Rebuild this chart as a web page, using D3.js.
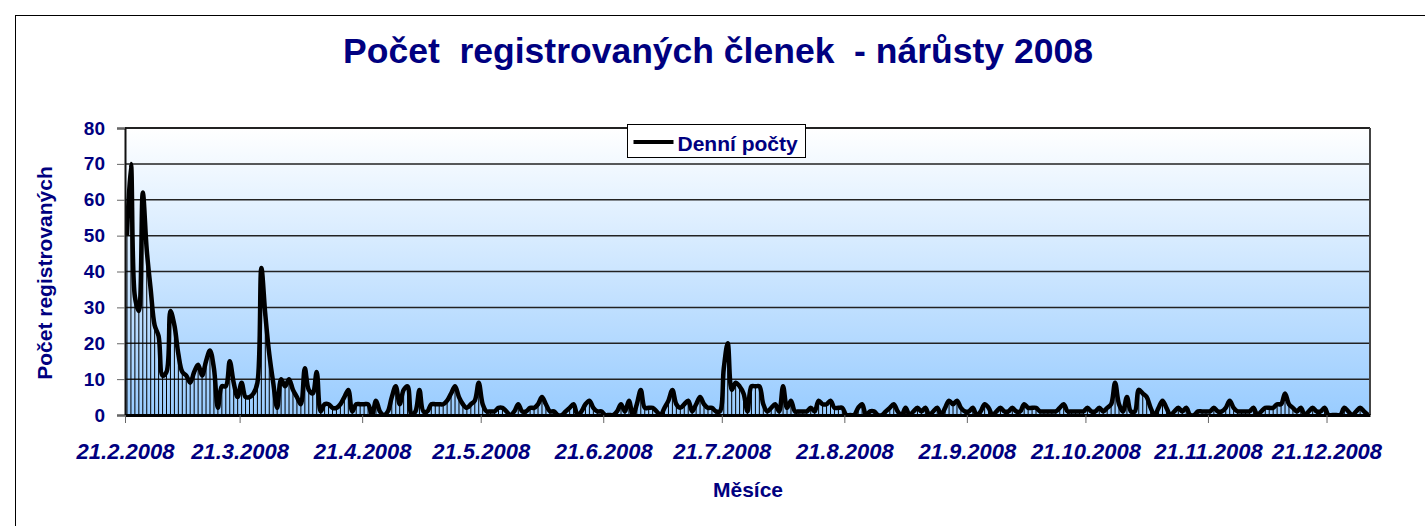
<!DOCTYPE html>
<html>
<head>
<meta charset="utf-8">
<script src="https://cdn.jsdelivr.net/npm/d3@7"></script>
<style>
	body { margin: 0; background: #fff; }
	text { font-family: "Liberation Sans", Arial, sans-serif; }
</style>
</head>
<body>
<div id="chart"></div>
<script>
var startDay = "21.2.2008";
var endDay = "1.1.2009";

// denni pocty, one value per day from 21.2.2008 to 31.12.2008
var counts = [
	50, 70, 33, 29, 62, 46, 35, 25, 22, 11, 12, 29, 25, 17, 12, 11, 9, 12, 14, 11,
	15, 18, 13, 2, 8, 8, 15, 9, 5, 9, 5, 5, 6, 9, 41, 28, 17, 9, 2, 10,
	8, 10, 7, 5, 3, 13, 7, 6, 12, 1, 3, 3, 2, 2, 3, 5, 7, 1, 3, 3,
	3, 3, 0, 4, 1, 0, 1, 5, 8, 3, 7, 8, 0, 1, 7, 1, 1, 3, 3, 3,
	3, 4, 6, 8, 5, 3, 2, 3, 4, 9, 3, 1, 1, 1, 2, 2, 1, 0, 1, 3,
	1, 1, 2, 2, 3, 5, 3, 1, 1, 0, 0, 1, 2, 3, 0, 1, 3, 4, 2, 1,
	1, 0, 0, 0, 1, 3, 1, 4, 0, 3, 7, 2, 2, 2, 1, 0, 2, 4, 7, 3,
	2, 3, 4, 1, 3, 5, 3, 2, 2, 1, 1, 13, 20, 7, 9, 8, 6, 1, 8, 8,
	8, 3, 1, 2, 3, 1, 8, 2, 4, 1, 1, 1, 1, 2, 1, 4, 3, 3, 4, 2,
	2, 2, 0, 0, 0, 2, 3, 0, 1, 1, 0, 0, 1, 2, 3, 1, 0, 2, 0, 1,
	2, 1, 2, 0, 1, 2, 0, 2, 4, 3, 4, 2, 1, 1, 2, 0, 1, 3, 2, 0,
	1, 2, 1, 1, 2, 1, 1, 3, 2, 2, 2, 1, 1, 1, 1, 1, 2, 3, 1, 1,
	1, 1, 1, 2, 1, 1, 2, 1, 2, 3, 9, 3, 1, 5, 1, 1, 7, 6, 5, 2,
	0, 2, 4, 2, 0, 1, 2, 1, 2, 0, 0, 1, 1, 1, 1, 2, 1, 1, 2, 4,
	2, 1, 1, 1, 1, 2, 0, 1, 2, 2, 2, 3, 3, 6, 3, 2, 1, 2, 0, 1,
	2, 1, 1, 2, 0, 0, 0, 0, 2, 1, 0, 1, 2, 1, 0
];

var tickLabels = [ "21.2.2008", "21.3.2008", "21.4.2008", "21.5.2008", "21.6.2008", "21.7.2008",
	"21.8.2008", "21.9.2008", "21.10.2008", "21.11.2008", "21.12.2008" ];
var yTicks = [ 0, 10, 20, 30, 40, 50, 60, 70, 80 ];

var title = "Počet  registrovaných členek  - nárůsty 2008";
var yTitle = "Počet registrovaných";
var xTitle = "Měsíce";
var seriesName = "Denní počty";

var navy = "#000080";
var parse = d3.timeParse("%d.%m.%Y");

var days = counts.map((v, i) => ({
	date: d3.timeHour.offset(d3.timeDay.offset(parse(startDay), i), 12),
	value: v
}));

var svg = d3.select("#chart")
	.append("svg")
	.attr("width", 1425)
	.attr("height", 526)
;

var margin = {top: 128, right: 55, bottom: 111, left: 125};
var width = 1425 - margin.left - margin.right;
var height = 526 - margin.top - margin.bottom;

var x = d3.scaleTime().domain([parse(startDay), parse(endDay)]).range([0, width]);
var y = d3.scaleLinear().domain([0, 80]).range([height, 0]);

// outer chart frame
svg.append("rect")
	.attr("x", 15.5).attr("y", 15.5)
	.attr("width", 1420).attr("height", 520)
	.attr("fill", "#fff")
	.attr("stroke", "#000")
;

var defs = svg.append("defs");
var grad = defs.append("linearGradient")
	.attr("id", "bg")
	.attr("x1", 0).attr("y1", 0).attr("x2", 0).attr("y2", 1);
grad.append("stop").attr("offset", "0%").attr("stop-color", "#ffffff");
grad.append("stop").attr("offset", "100%").attr("stop-color", "#99ccff");

defs.append("clipPath").attr("id", "clip")
	.append("rect").attr("x", 0).attr("y", -2).attr("width", width).attr("height", height + 4);

var g = svg.append("g")
	.attr("transform", "translate(" + margin.left + "," + margin.top + ")");

g.append("rect")
	.attr("width", width)
	.attr("height", height)
	.attr("fill", "url(#bg)")
;

// grid
g.append("g")
	.selectAll("line")
	.data(yTicks)
	.enter().append("line")
	.attr("x1", 0).attr("x2", width)
	.attr("y1", (d) => y(d)).attr("y2", (d) => y(d))
	.attr("stroke", "#222")
	.attr("stroke-width", 1.5)
;

var plot = g.append("g").attr("clip-path", "url(#clip)");

// drop lines
plot.append("g")
	.selectAll("line")
	.data(days)
	.enter().append("line")
	.attr("x1", (d) => x(d.date)).attr("x2", (d) => x(d.date))
	.attr("y1", (d) => y(d.value)).attr("y2", height)
	.attr("stroke", "#000")
	.attr("stroke-width", 1)
;

var line = d3.line()
	.x((d) => x(d.date))
	.y((d) => y(d.value))
	.curve(d3.curveCatmullRom.alpha(0.5));

plot.append("path")
	.datum(days)
	.attr("d", line)
	.attr("fill", "none")
	.attr("stroke", "#000")
	.attr("stroke-width", 4.5)
	.attr("stroke-linejoin", "round")
;

// plot frame
g.append("line").attr("x1", 0).attr("x2", width).attr("y1", 0).attr("y2", 0)
	.attr("stroke", "#222").attr("stroke-width", 2);
g.append("line").attr("x1", width).attr("x2", width).attr("y1", 0).attr("y2", height)
	.attr("stroke", "#444").attr("stroke-width", 2);

var yAxis = g.append("g")
	.call(d3.axisLeft(y).tickValues(yTicks).tickSize(8).tickPadding(12));
yAxis.select(".domain").attr("stroke", "#111").attr("stroke-width", 2);
yAxis.selectAll(".tick line").attr("stroke", "#666");
yAxis.selectAll("text")
	.attr("fill", navy)
	.attr("font-size", "19px")
	.attr("font-weight", "bold")
	.attr("font-family", "Liberation Sans, Arial, sans-serif")
;

var xAxis = g.append("g")
	.attr("transform", "translate(0," + height + ")")
	.call(d3.axisBottom(x)
		.tickValues(tickLabels.map(parse))
		.tickFormat(d3.timeFormat("%-d.%-m.%Y"))
		.tickSize(8)
		.tickSizeOuter(0)
		.tickPadding(10));
xAxis.select(".domain").attr("stroke", "#000").attr("stroke-width", 3);
xAxis.selectAll(".tick line").attr("stroke", "#666");
xAxis.selectAll("text")
	.attr("fill", navy)
	.attr("font-size", "22px")
	.attr("font-weight", "bold")
	.attr("font-style", "italic")
	.attr("font-family", "Liberation Sans, Arial, sans-serif")
	.attr("dy", "1.2em")
;

// titles
svg.append("text")
	.attr("x", 718).attr("y", 63)
	.attr("text-anchor", "middle")
	.attr("fill", navy)
	.attr("font-size", "35.5px")
	.attr("font-weight", "bold")
	.style("white-space", "pre")
	.text(title)
;

svg.append("text")
	.attr("transform", "translate(52,273)rotate(-90)")
	.attr("text-anchor", "middle")
	.attr("fill", navy)
	.attr("font-size", "21px")
	.attr("font-weight", "bold")
	.text(yTitle)
;

svg.append("text")
	.attr("x", 748).attr("y", 497)
	.attr("text-anchor", "middle")
	.attr("fill", navy)
	.attr("font-size", "21px")
	.attr("font-weight", "bold")
	.text(xTitle)
;

// legend
var legend = svg.append("g").attr("transform", "translate(627.5,124.5)");
legend.append("rect")
	.attr("width", 178).attr("height", 33)
	.attr("fill", "#fff")
	.attr("stroke", "#000")
;
legend.append("line")
	.attr("x1", 6).attr("x2", 46).attr("y1", 17.5).attr("y2", 17.5)
	.attr("stroke", "#000").attr("stroke-width", 4)
;
legend.append("text")
	.attr("x", 50).attr("y", 26)
	.attr("fill", navy)
	.attr("font-size", "21px")
	.attr("font-weight", "bold")
	.text(seriesName)
;
</script>
</body>
</html>
